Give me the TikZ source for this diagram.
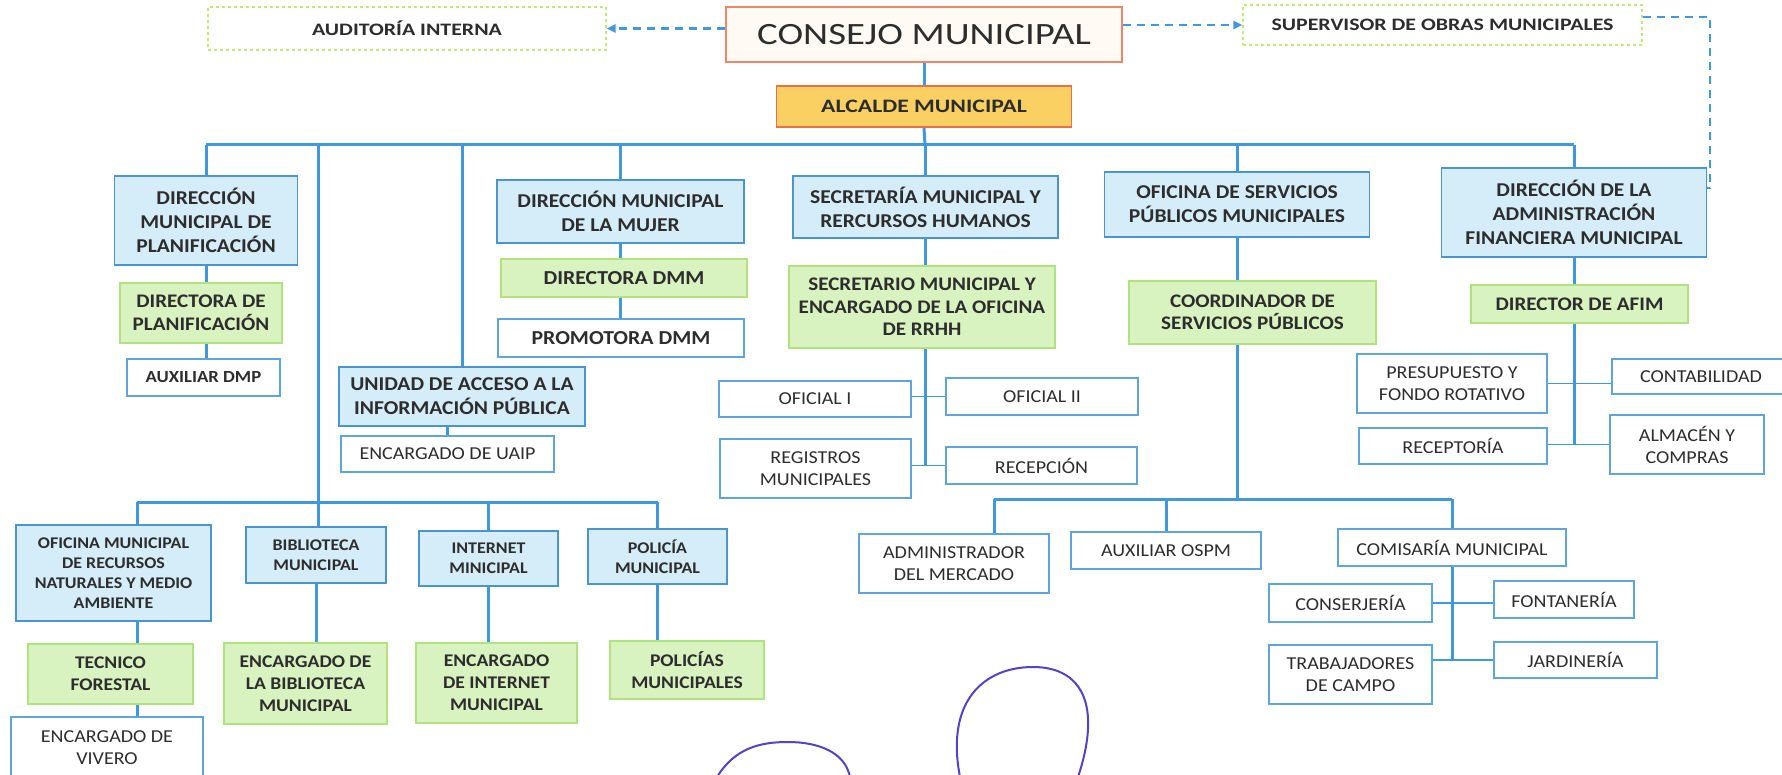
\documentclass[tikz,border=0pt]{standalone}
\usepackage{fontspec}
\setmainfont{Carlito}[FakeStretch=1.1]
\newfontfamily\widefont{Carlito}[FakeStretch=1.25]
\usetikzlibrary{arrows.meta, backgrounds}

\definecolor{txtgray}{RGB}{45,45,45}
\definecolor{linkblue}{RGB}{66,152,222}
\definecolor{unitfill}{RGB}{212,237,249}
\definecolor{unitline}{RGB}{74,148,208}
\definecolor{chieffill}{RGB}{216,242,192}
\definecolor{chiefline}{RGB}{176,226,128}
\definecolor{staffline}{RGB}{96,164,222}
\definecolor{sideline}{RGB}{190,232,120}
\definecolor{councilfill}{RGB}{255,250,243}
\definecolor{councilline}{RGB}{238,134,104}
\definecolor{mayorfill}{RGB}{250,208,98}
\definecolor{mayorline}{RGB}{234,112,72}
\definecolor{inkpurple}{RGB}{88,64,200}

\begin{document}
\begin{tikzpicture}[
    x=1pt, y=-1pt,
    box/.style       ={draw, rectangle, align=center, inner sep=2pt, text=txtgray,
                       line width=1.2pt},
    councilbox/.style={box, fill=councilfill, draw=councilline,
                       font=\widefont\fontsize{31}{36}\selectfont},
    mayorbox/.style  ={box, fill=mayorfill, draw=mayorline, line width=1.5pt,
                       font=\widefont\bfseries\fontsize{19}{22}\selectfont},
    sidebox/.style   ={box, draw=sideline, dash pattern=on 3pt off 3pt,
                       font=\widefont\bfseries\fontsize{17.5}{21}\selectfont},
    hdrbox/.style    ={box, fill=unitfill, draw=unitline,
                       font=\bfseries\fontsize{19.6}{24}\selectfont},
    unitbox/.style   ={box, fill=unitfill, draw=unitline,
                       font=\bfseries\fontsize{16.3}{20}\selectfont},
    chiefbox/.style  ={box, fill=chieffill, draw=chiefline,
                       font=\bfseries\fontsize{19.2}{22.5}\selectfont},
    crewbox/.style   ={box, fill=chieffill, draw=chiefline,
                       font=\bfseries\fontsize{17.8}{22}\selectfont},
    staffbox/.style  ={box, fill=white, draw=staffline,
                       font=\fontsize{18.2}{22}\selectfont},
    link/.style      ={line width=3pt, draw=linkblue},
    sublink/.style   ={line width=1.8pt, draw=linkblue},
    dashlink/.style  ={line width=2.2pt, draw=linkblue, dash pattern=on 8pt off 6pt},
    dasharrow/.style ={dashlink, -{Triangle[length=9pt,width=8pt]}},
    scribble/.style  ={line width=2pt, draw=inkpurple}
]
\useasboundingbox (0,0) rectangle (1782,775);

% =================== TOP: council, side offices, mayor ===================
\node[sidebox, minimum width=398, minimum height=43] (aud) at (407,28.5) {AUDITORÍA INTERNA};
\node[councilbox, minimum width=396, minimum height=55] (consejo) at (924,34.5) {CONSEJO MUNICIPAL};
\node[sidebox, minimum width=399, minimum height=40] (sup) at (1442.5,25) {SUPERVISOR DE OBRAS MUNICIPALES};
\node[mayorbox, minimum width=295, minimum height=41] (alcalde) at (924,106.5) {ALCALDE MUNICIPAL};

% =================== FIRST ROW: directions ===================
\node[hdrbox, minimum width=183, minimum height=89] (dmp) at (206,220.5) {DIRECCIÓN\\MUNICIPAL DE\\PLANIFICACIÓN};
\node[hdrbox, minimum width=247, minimum height=63] (dmm) at (620.5,211.5) {DIRECCIÓN MUNICIPAL\\DE LA MUJER};
\node[hdrbox, minimum width=265, minimum height=62] (secmun) at (925.5,207) {SECRETARÍA MUNICIPAL Y\\RERCURSOS HUMANOS};
\node[hdrbox, minimum width=265, minimum height=65] (osp) at (1237,204.5) {OFICINA DE SERVICIOS\\PÚBLICOS MUNICIPALES};
\node[hdrbox, minimum width=265, minimum height=89] (dafm) at (1574,212.5) {DIRECCIÓN DE LA\\ADMINISTRACIÓN\\FINANCIERA MUNICIPAL};
\node[hdrbox, minimum width=246, minimum height=59] (uaip) at (462,396.5) {UNIDAD DE ACCESO A LA\\INFORMACIÓN PÚBLICA};

% Heads and staff under each direction
\node[chiefbox, minimum width=162, minimum height=60] (dirpla) at (201,313) {DIRECTORA DE\\PLANIFICACIÓN};
\node[staffbox, font=\bfseries\fontsize{17}{22}\selectfont, minimum width=153, minimum height=37] (auxdmp) at (203.5,377.5) {AUXILIAR DMP};
\node[staffbox, minimum width=213, minimum height=36] (encuaip) at (447.5,454) {ENCARGADO DE UAIP};
\node[chiefbox, font=\bfseries\fontsize{19.8}{22}\selectfont, minimum width=246, minimum height=38] (dirdmm) at (624,278) {DIRECTORA DMM};
\node[staffbox, font=\bfseries\fontsize{19.8}{22}\selectfont, minimum width=246, minimum height=38] (promdmm) at (621,338) {PROMOTORA DMM};
\node[chiefbox, minimum width=266, minimum height=82] (secrrhh) at (922,307) {SECRETARIO MUNICIPAL Y\\ENCARGADO DE LA OFICINA\\DE RRHH};
\node[staffbox, minimum width=192, minimum height=36] (ofi1) at (815,399) {OFICIAL I};
\node[staffbox, minimum width=192, minimum height=37] (ofi2) at (1042,396.5) {OFICIAL II};
\node[staffbox, minimum width=191, minimum height=59] (regmun) at (815.5,468.5) {REGISTROS\\MUNICIPALES};
\node[staffbox, minimum width=191, minimum height=37] (recep) at (1041.5,465.5) {RECEPCIÓN};
\node[chiefbox, minimum width=247, minimum height=63] (coord) at (1252.5,312.5) {COORDINADOR DE\\SERVICIOS PÚBLICOS};
\node[chiefbox, minimum width=217, minimum height=38] (afim) at (1579.5,304) {DIRECTOR DE AFIM};
\node[staffbox, minimum width=190, minimum height=59] (presup) at (1452,383.5) {PRESUPUESTO Y\\FONDO ROTATIVO};
\node[staffbox, minimum width=178, minimum height=35] (contab) at (1701,376.5) {CONTABILIDAD};
\node[staffbox, minimum width=188, minimum height=36] (recept) at (1453,446) {RECEPTORÍA};
\node[staffbox, minimum width=154, minimum height=59] (almacen) at (1687,444.5) {ALMACÉN Y\\COMPRAS};

% =================== PUBLIC SERVICES BRANCH ===================
\node[staffbox, minimum width=190, minimum height=59] (adm) at (954,563.5) {ADMINISTRADOR\\DEL MERCADO};
\node[staffbox, minimum width=190, minimum height=37] (auxospm) at (1166,550.5) {AUXILIAR OSPM};
\node[staffbox, minimum width=228, minimum height=37] (comis) at (1452,547.5) {COMISARÍA MUNICIPAL};
\node[staffbox, minimum width=163, minimum height=38] (conser) at (1350.5,603) {CONSERJERÍA};
\node[staffbox, minimum width=140, minimum height=37] (fontan) at (1564,599.5) {FONTANERÍA};
\node[staffbox, minimum width=163, minimum height=59] (trab) at (1350.5,674.5) {TRABAJADORES\\DE CAMPO};
\node[staffbox, minimum width=163, minimum height=36] (jard) at (1575.5,660) {JARDINERÍA};

% =================== LOWER LEFT: municipal units ===================
\node[unitbox, minimum width=195, minimum height=96] (ofrn) at (113.5,573) {OFICINA MUNICIPAL\\DE RECURSOS\\NATURALES Y MEDIO\\AMBIENTE};
\node[unitbox, minimum width=140, minimum height=56] (bib) at (316,555) {BIBLIOTECA\\MUNICIPAL};
\node[unitbox, minimum width=139, minimum height=55] (inet) at (488.5,558.5) {INTERNET\\MINICIPAL};
\node[unitbox, minimum width=139, minimum height=55] (pol) at (657.5,556.5) {POLICÍA\\MUNICIPAL};
\node[crewbox, minimum width=165, minimum height=60] (tecfor) at (110.5,674) {TECNICO\\FORESTAL};
\node[crewbox, minimum width=163, minimum height=81] (encbib) at (305.5,683.5) {ENCARGADO DE\\LA BIBLIOTECA\\MUNICIPAL};
\node[crewbox, minimum width=161, minimum height=80] (encinet) at (496.5,683) {ENCARGADO\\DE INTERNET\\MUNICIPAL};
\node[crewbox, minimum width=154, minimum height=58] (pols) at (687,670) {POLICÍAS\\MUNICIPALES};
\node[staffbox, minimum width=192, minimum height=62] (vivero) at (107,748) {ENCARGADO DE\\VIVERO};

% Bus junctions and off-centre drop lines
\coordinate (busa) at (925,145);
\coordinate (busb) at (318,502);
\coordinate (busc) at (1237,499);
\coordinate (rnx) at (137,0);
\coordinate (admx) at (994,0);
\coordinate (dashturn) at (1710,17);

% --- Connectors (behind the boxes) ---
\begin{scope}[on background layer]
\fill[white] (0,0) rectangle (1782,775);

% Council -> side offices
\draw[dasharrow] (consejo.west |- aud.east) -- (aud.east);
\draw[dasharrow] (consejo.east |- sup.west) -- (sup.west);
\draw[dashlink] ([yshift=8pt]sup.east) -- (dashturn) |- ([yshift=24.5pt]dafm.east);

% Council -> mayor -> top bus
\draw[link] (consejo.south) -- (alcalde.north);
\draw[link] (alcalde.south) -- (busa);
\draw[link] (dmp.north |- busa) -- (dafm.north |- busa);
\draw[link] (busa -| dmp.north) -- (dmp.north);
\draw[link] (busa -| uaip.north) -- (uaip.north);
\draw[link] (busa -| dmm.north) -- (dmm.north);
\draw[link] (busa -| secmun.north) -- (secmun.north);
\draw[link] (busa -| osp.north) -- (osp.north);
\draw[link] (busa -| dafm.north) -- (dafm.north);
\draw[link] (busa -| busb) -- (busb);

% Planning / UAIP / women columns
\draw[link] (dmp.south) -- (dmp.south |- dirpla.north);
\draw[link] (dmp.south |- dirpla.south) -- (dmp.south |- auxdmp.north);
\draw[link] (uaip.south -| encuaip.north) -- (encuaip.north);
\draw[link] (dmm.south) -- (dmm.south |- dirdmm.north);
\draw[link] (dmm.south |- dirdmm.south) -- (dmm.south |- promdmm.north);

% Secretariat column
\draw[link] (secmun.south) -- (secmun.south |- secrrhh.north);
\draw[link] (secmun.south |- secrrhh.south) -- (secmun.south |- recep.west);
\draw[sublink] (ofi1.east |- ofi2.west) -- (ofi2.west);
\draw[sublink] (regmun.east |- recep.west) -- (recep.west);

% Public services column
\draw[link] (osp.south) -- (osp.south |- coord.north);
\draw[link] (osp.south |- coord.south) -- (busc);
\draw[link] (busc -| admx) -- (busc -| comis.north);
\draw[link] (busc -| admx) -- (admx |- adm.north);
\draw[link] (busc -| auxospm.north) -- (auxospm.north);
\draw[link] (busc -| comis.north) -- (comis.north);
\draw[link] (comis.south) -- (comis.south |- jard.west);
\draw[sublink] (conser.east) -- (conser.east -| fontan.west);
\draw[sublink] (trab.east |- jard.west) -- (jard.west);

% Finance column
\draw[link] (dafm.south) -- (dafm.south |- afim.north);
\draw[link] (dafm.south |- afim.south) -- (dafm.south |- almacen.west);
\draw[sublink] (presup.east) -- (presup.east -| contab.west);
\draw[sublink] (recept.east |- almacen.west) -- (almacen.west);

% Lower-left bus and units
\draw[link] (busb -| rnx) -- (busb -| pol.north);
\draw[link] (busb -| rnx) -- (rnx |- ofrn.north);
\draw[link] (busb) -- (busb |- bib.north);
\draw[link] (busb -| inet.north) -- (inet.north);
\draw[link] (busb -| pol.north) -- (pol.north);
\draw[link] (rnx |- ofrn.south) -- (rnx |- tecfor.north);
\draw[link] (rnx |- tecfor.south) -- (rnx |- vivero.north);
\draw[link] (bib.south) -- (bib.south |- encbib.north);
\draw[link] (inet.south) -- (inet.south |- encinet.north);
\draw[link] (pol.south) -- (pol.south |- pols.north);
\end{scope}

% Pen marks at the bottom
\draw[scribble] (717,777) .. controls (735,748) and (760,742) .. (788,742)
    .. controls (818,742) and (845,752) .. (850,777);
\draw[scribble] (960,777) .. controls (945,700) and (985,667) .. (1033,667)
    .. controls (1082,667) and (1102,705) .. (1078,777);

\end{tikzpicture}
\end{document}
